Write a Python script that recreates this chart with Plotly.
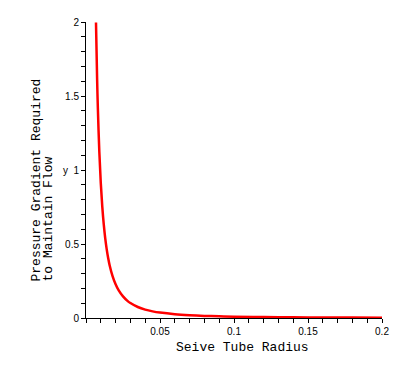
import plotly.graph_objects as go

# Values
radius = [0.00675, 0.0075, 0.008, 0.009, 0.010, 0.011, 0.012, 0.013, 0.014, 0.015,
          0.016, 0.018, 0.020, 0.022, 0.025, 0.028, 0.030, 0.035, 0.040, 0.045,
          0.050, 0.060, 0.070, 0.080, 0.090, 0.100, 0.120, 0.140, 0.160, 0.180, 0.200]
pressure = [1.997, 1.618, 1.422, 1.123, 0.910, 0.752, 0.632, 0.538, 0.464, 0.404,
            0.355, 0.281, 0.2275, 0.188, 0.146, 0.116, 0.101, 0.0743, 0.0569, 0.0449,
            0.0364, 0.0253, 0.0186, 0.0142, 0.0112, 0.0091, 0.0063, 0.0046, 0.0036, 0.0028, 0.0023]

x_tickvals = [0, 0.05, 0.1, 0.15, 0.2]
x_ticktext = ["", "0.05", "0.1", "0.15", "0.2"]
y_tickvals = [0, 0.5, 1, 1.5, 2]
y_ticktext = ["0", "0.5", "1", "1.5", "2"]

fig = go.Figure()
fig.add_trace(go.Scatter(x=radius, y=pressure, mode="lines",
                         line=dict(color="#ff0000", width=2.5, shape="spline"),
                         showlegend=False, hoverinfo="skip"))

tickfont = dict(family="Liberation Sans, Arial, sans-serif", size=10, color="black")
titlefont = dict(family="Liberation Mono, Courier New, monospace", size=13, color="black")

fig.update_layout(
    width=400, height=366,
    margin=dict(l=78, r=26, t=14, b=56),
    paper_bgcolor="white", plot_bgcolor="white",
    xaxis=dict(range=[0, 0.2], showgrid=False, zeroline=False,
               showline=True, linecolor="black", linewidth=1,
               tickmode="array", tickvals=x_tickvals, ticktext=x_ticktext,
               ticks="outside", ticklen=4, tickcolor="black", tickwidth=1,
               minor=dict(dtick=0.01, tick0=0, ticks="outside", ticklen=4,
                          tickcolor="black", tickwidth=1, showgrid=False),
               tickfont=tickfont, automargin=False),
    yaxis=dict(range=[0, 2], showgrid=False, zeroline=False,
               showline=True, linecolor="black", linewidth=1,
               tickmode="array", tickvals=y_tickvals, ticktext=y_ticktext,
               ticks="outside", ticklen=4, tickcolor="black", tickwidth=1,
               minor=dict(dtick=0.1, tick0=0, ticks="outside", ticklen=4,
                          tickcolor="black", tickwidth=1, showgrid=False),
               tickfont=tickfont, automargin=False),
    annotations=[
        dict(text="Seive Tube Radius", xref="paper", yref="paper",
             x=0.530, y=-0.101, xanchor="center", yanchor="middle",
             showarrow=False, font=titlefont),
        dict(text="Pressure Gradient Required",
             xref="paper", yref="paper", x=(36 - 86) / 296, y=(318 - 284) / 296,
             xanchor="center", yanchor="bottom", textangle=-90,
             showarrow=False, font=titlefont),
        dict(text="to Maintain Flow",
             xref="paper", yref="paper", x=(48 - 86) / 296, y=(318 - 284) / 296,
             xanchor="center", yanchor="bottom", textangle=-90,
             showarrow=False, font=titlefont),
        dict(text="y", xref="paper", yref="paper",
             x=(65 - 86) / 296, y=(318 - 170) / 296,
             xanchor="center", yanchor="middle", showarrow=False, font=tickfont),
    ],
)

fig.write_html("out.html")
